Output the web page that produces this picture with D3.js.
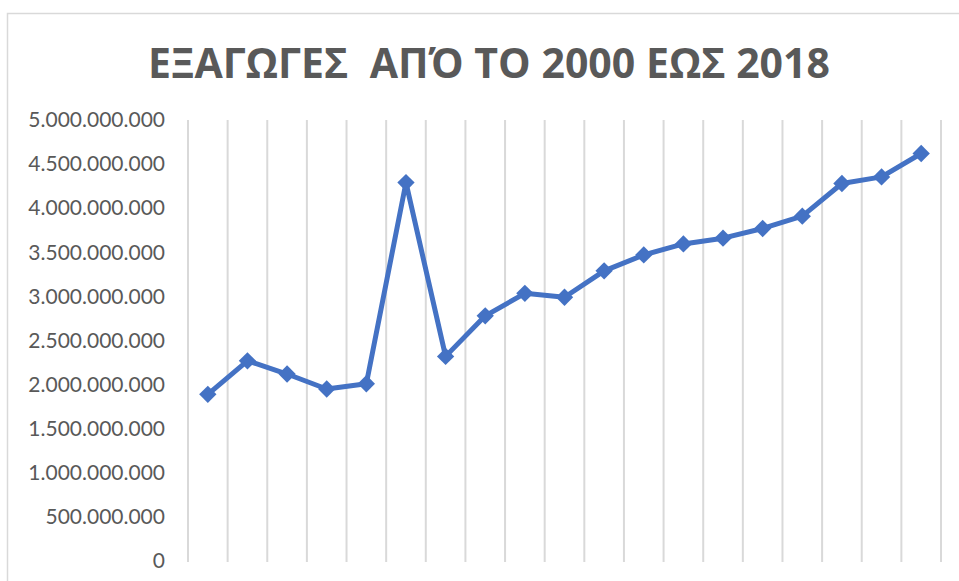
<!DOCTYPE html>
<html>
<head>
<meta charset="utf-8">
<script src="https://cdn.jsdelivr.net/npm/d3@7"></script>
<style>
  body { margin: 0; background: #fff; }
  svg { display: block; }
</style>
</head>
<body>
<figure id="chart" style="margin:0"></figure>
<script>
// data
const years = ["2000", "2001", "2002", "2003", "2004", "2005", "2006", "2007", "2008", "2009",
  "2010", "2011", "2012", "2013", "2014", "2015", "2016", "2017", "2018"];
const exportsValues = [1890000000, 2270000000, 2120000000, 1950000000, 2010000000, 4290000000,
  2320000000, 2780000000, 3035000000, 2990000000, 3290000000, 3470000000, 3595000000,
  3660000000, 3770000000, 3910000000, 4280000000, 4355000000, 4620000000];
const yTicks = [0, 500000000, 1000000000, 1500000000, 2000000000, 2500000000, 3000000000,
  3500000000, 4000000000, 4500000000, 5000000000];
const titleText = "ΕΞΑΓΩΓΕΣ  ΑΠΌ ΤΟ 2000 ΕΩΣ 2018";

const width = 959;
const height = 581;
const font = "Lato, 'Open Sans', sans-serif";
const titleFont = "'Open Sans', 'Noto Sans', sans-serif";

const svg = d3.select("figure#chart").append("svg")
  .attr("width", width)
  .attr("height", height);

// chart frame
svg.append("rect")
  .attr("x", 7.5)
  .attr("y", 13.5)
  .attr("width", width)
  .attr("height", height)
  .attr("fill", "none")
  .attr("stroke", "#d9d9d9")
  .attr("stroke-width", 1.5);

const x = d3.scaleBand()
  .domain(years)
  .range([188, 941])
  .paddingInner(0)
  .paddingOuter(0);

const y = d3.scaleLinear()
  .domain([0, 5000000000])
  .range([561, 120]);

// vertical gridlines on category boundaries
const bounds = years.map(d => x(d)).concat([x.range()[1]]);
svg.append("g")
  .selectAll("line")
  .data(bounds)
  .join("line")
  .attr("x1", d => d)
  .attr("x2", d => d)
  .attr("y1", y(5000000000))
  .attr("y2", y(0) + 1)
  .attr("stroke", "#d9d9d9")
  .attr("stroke-width", 2);

// y axis with greek number format
const locale = d3.formatLocale({ decimal: ",", thousands: ".", grouping: [3], currency: ["", "€"] });
const yAxis = d3.axisLeft(y)
  .tickValues(yTicks)
  .tickFormat(locale.format(",d"))
  .tickSize(0)
  .tickPadding(23);

const gy = svg.append("g")
  .attr("transform", "translate(188,0)")
  .call(yAxis);
gy.select(".domain").remove();
gy.selectAll("text")
  .attr("fill", "#595959")
  .attr("font-family", font)
  .attr("font-size", "21px");

// line + markers
const line = d3.line()
  .x((d, i) => x(years[i]) + x.bandwidth() / 2)
  .y(d => y(d));

svg.append("path")
  .datum(exportsValues)
  .attr("fill", "none")
  .attr("stroke", "#4472c4")
  .attr("stroke-width", 5)
  .attr("stroke-linejoin", "round")
  .attr("d", line);

const diamond = d3.symbol().type(d3.symbolSquare).size(150);
svg.append("g")
  .selectAll("path")
  .data(exportsValues)
  .join("path")
  .attr("d", diamond)
  .attr("fill", "#4472c4")
  .attr("transform", (d, i) => "translate(" + (x(years[i]) + x.bandwidth() / 2) + "," + y(d) + ") rotate(45)");

// title
svg.append("text")
  .attr("x", 489)
  .attr("y", 78)
  .attr("text-anchor", "middle")
  .attr("fill", "#595959")
  .attr("font-family", titleFont)
  .attr("font-weight", "bold")
  .attr("font-size", "42px")
  .attr("textLength", 682)
  .attr("lengthAdjust", "spacingAndGlyphs")
  .attr("xml:space", "preserve")
  .style("white-space", "pre")
  .text(titleText);
</script>
</body>
</html>
